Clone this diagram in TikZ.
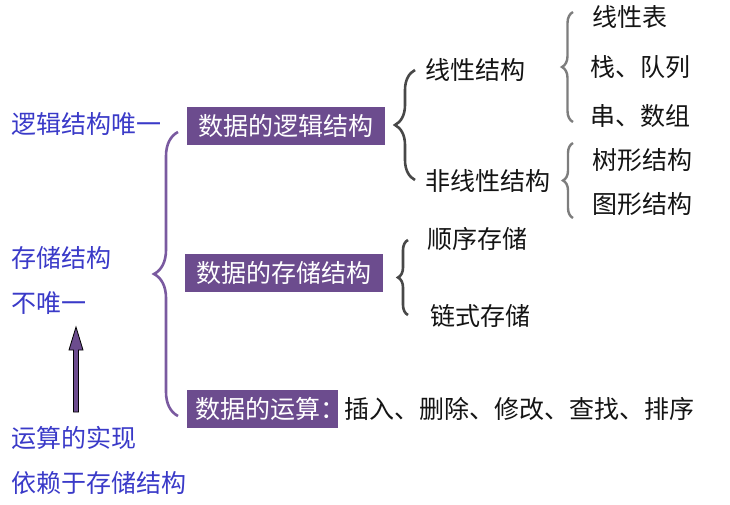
\documentclass[tikz,border=0pt]{standalone}
\usepackage{fontspec}
\setmainfont{Noto Sans CJK SC}
\usetikzlibrary{decorations.pathreplacing,calc}
\definecolor{BoxClr}{RGB}{108,76,142}
\definecolor{NoteClr}{RGB}{58,58,200}
\definecolor{BraceClr}{RGB}{122,90,160}
\definecolor{DarkClr}{RGB}{72,72,72}
\definecolor{LightClr}{RGB}{125,125,125}
\definecolor{TextClr}{RGB}{20,20,20}

\begin{document}
\begin{tikzpicture}[x=1pt,y=-1pt,
  every node/.style={font=\fontsize{25}{29}\selectfont,inner sep=0pt,anchor=west},
  note/.style={text=NoteClr},
  item/.style={text=TextClr},
  topic/.style={fill=BoxClr,text=white,minimum height=38pt,anchor=west},
  bigbrace/.style={decorate,decoration={brace,amplitude=24pt},line width=2.6pt,draw=BraceClr},
  darkbrace/.style={decorate,decoration={brace,amplitude=#1},line width=2.6pt,draw=DarkClr},
  lightbrace/.style={decorate,decoration={brace,amplitude=#1},line width=2.4pt,draw=LightClr}]
\useasboundingbox (0,0) rectangle (730,504);

\node[note] (logicone) at (11,124) {逻辑结构唯一};
\node[note] (storeone) at (11,258) {存储结构};
\node[note] (notone) at (11,303) {不唯一};
\node[note] (opimpl) at (11,438) {运算的实现};
\node[note] (depend) at (11,483) {依赖于存储结构};

\node[topic,minimum width=198pt] (logic) at (187,126) {数据的逻辑结构};
\node[topic,minimum width=198pt] (store) at (185,273) {数据的存储结构};
\node[topic,text width=135pt,align=left,inner xsep=8pt] (ops) at (187,408.5) {数据的运算：};
\node[item] (opslist) at (344,409) {插入、删除、修改、查找、排序};

\node[item] (linear) at (425,70) {线性结构};
\node[item] (nonlinear) at (425,181) {非线性结构};
\node[item] (list) at (592,17) {线性表};
\node[item] (stack) at (590,67) {栈、队列};
\node[item] (string) at (590,116) {串、数组};
\node[item] (tree) at (592,160) {树形结构};
\node[item] (graph) at (592,204) {图形结构};
\node[item] (seq) at (427,239) {顺序存储};
\node[item] (chain) at (430,316) {链式存储};

\coordinate (maintop) at (178,132);
\coordinate (mainbot) at (178,416);
\coordinate (logictop) at (415,70);
\coordinate (logicbot) at (415,180);
\coordinate (lineartop) at (573,12);
\coordinate (linearbot) at (573,122);
\coordinate (nonlineartop) at (573,143);
\coordinate (nonlinearbot) at (573,218);
\coordinate (storetop) at (408,240);
\coordinate (storebot) at (408,315);

\draw[bigbrace] (mainbot) -- (maintop);
\draw[darkbrace=20pt] (logicbot) -- (logictop);
\draw[darkbrace=10pt] (storebot) -- (storetop);
\draw[lightbrace=11pt] (linearbot) -- (lineartop);
\draw[lightbrace=10pt] (nonlinearbot) -- (nonlineartop);

\coordinate (arrowfoot) at (76,412);
\coordinate (arrowtip) at (76,327);
\filldraw[fill=BoxClr,draw=black,line width=0.8pt]
  ($(arrowfoot)+(-2.5,0)$) -- ($(arrowtip)+(-2.5,23)$) -- ($(arrowtip)+(-7,23)$)
  -- (arrowtip) -- ($(arrowtip)+(7,23)$) -- ($(arrowtip)+(2.5,23)$)
  -- ($(arrowfoot)+(2.5,0)$) -- cycle;

\end{tikzpicture}
\end{document}
